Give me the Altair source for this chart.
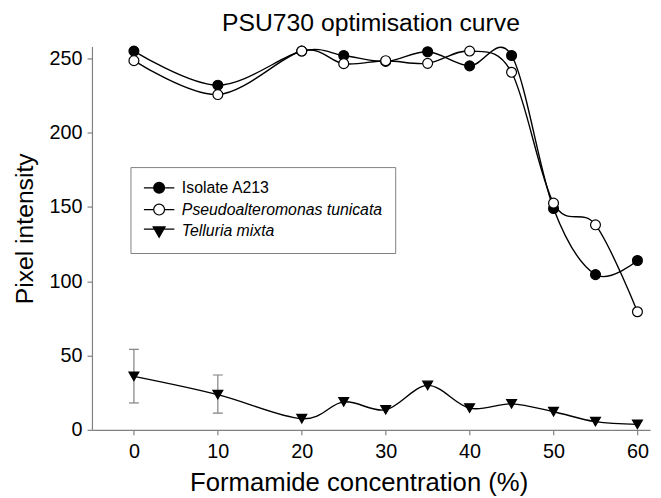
import altair as alt
import pandas as pd

# ---------------- data ----------------
conc = [0, 10, 20, 25, 30, 35, 40, 45, 50, 55, 60]
isolate_a213 = [255, 232, 255, 252, 248, 254.5, 245, 252, 149, 104.5, 114]
p_tunicata = [248.5, 225.7, 255, 246.5, 248.5, 246.7, 255, 240.7, 152.6, 138, 79.5]
t_mixta = [36, 23.7, 7.5, 18.8, 13.5, 29.9, 14.6, 17.5, 12.2, 5.5, 3.7]
series_names = ["Isolate A213", "Pseudoalteromonas tunicata", "Telluria mixta"]

err_conc = [0, 10]
err_low = [18.1, 11.3]
err_high = [54.2, 36.9]

x_ticks = [0, 10, 20, 30, 40, 50, 60]
y_ticks = [0, 50, 100, 150, 200, 250]

# ---------------- tables ----------------
rows = []
for name, vals in zip(series_names, [isolate_a213, p_tunicata, t_mixta]):
    for c, v in zip(conc, vals):
        rows.append({"conc": c, "value": v, "series": name})
df = pd.DataFrame(rows)

err_df = pd.DataFrame({"conc": err_conc, "lo": err_low, "hi": err_high})

FONT = "Liberation Sans"

x_enc = alt.X("conc:Q",
              scale=alt.Scale(domain=[-5, 61.5], nice=False, zero=False),
              axis=alt.Axis(values=x_ticks, title="Formamide concentration (%)",
                            labelFontSize=20, titleFontSize=26,
                            labelPadding=7, titlePadding=8, titleX=270))
y_enc = alt.Y("value:Q",
              scale=alt.Scale(domain=[0, 258], nice=False),
              axis=alt.Axis(values=y_ticks, title="Pixel intensity",
                            labelFontSize=20, titleFontSize=25,
                            labelPadding=5, titlePadding=12, titleY=184))

# legend symbols: marker with a short line through it (unit = marker radius)
CIRC = "M-2.8,0L-1,0M1,0L2.8,0M-1,0A1,1,0,1,1,1,0A1,1,0,1,1,-1,0Z"
TRI = "M-2.8,-0.4L2.8,-0.4M-1.1,-0.8L1.1,-0.8L0,1.1Z"

legend = alt.Legend(
    title=None, orient="none", legendX=39, legendY=122,
    strokeColor="#808080", padding=13,
    labelFontSize=16, labelFont=FONT, labelColor="black", labelLimit=400,
    labelFontStyle=alt.ExprRef("datum.value == 'Isolate A213' ? 'normal' : 'italic'"),
    rowPadding=6, symbolSize=121, symbolOffset=8, labelOffset=15,
    symbolOpacity=1, symbolStrokeWidth=1.2, symbolStrokeColor="black",
)

fill_scale = alt.Scale(domain=series_names, range=["black", "white", "black"])
shape_scale = alt.Scale(domain=series_names, range=[CIRC, CIRC, TRI])
stroke_scale = alt.Scale(domain=series_names, range=["black", "black", "black"])

errbar = alt.Chart(err_df).mark_rule(color="#808080", strokeWidth=1.2).encode(
    x=x_enc, y=alt.Y("lo:Q"), y2="hi:Q")
cap_lo = alt.Chart(err_df).mark_tick(orient="horizontal", size=10, thickness=1.2,
                                     color="#808080", opacity=1).encode(x=x_enc, y=alt.Y("lo:Q"))
cap_hi = alt.Chart(err_df).mark_tick(orient="horizontal", size=10, thickness=1.2,
                                     color="#808080", opacity=1).encode(x=x_enc, y=alt.Y("hi:Q"))

lines = alt.Chart(df).mark_line(interpolate="cardinal", color="black", strokeWidth=1.4).encode(
    x=x_enc, y=y_enc, detail="series:N")

circles = alt.Chart(df).transform_filter(
    alt.FieldOneOfPredicate(field="series", oneOf=series_names[:2])
).mark_point(filled=True, shape="circle", stroke="black", strokeWidth=1.2, size=100, opacity=1).encode(
    x=x_enc, y=y_enc,
    fill=alt.Fill("series:N", scale=fill_scale, legend=legend),
)

triangles = alt.Chart(df).transform_filter(
    alt.FieldEqualPredicate(field="series", equal=series_names[2])
).mark_point(filled=True, shape="triangle-down", color="black", stroke="black",
             strokeWidth=1.2, size=100, opacity=1).encode(x=x_enc, y=y_enc)

# legend-only layer (draws no data marks): supplies the legend symbol shapes
legend_layer = alt.Chart(df).transform_filter("false").mark_point(
    filled=False, strokeWidth=1.2, size=121, opacity=1).encode(
    x=x_enc, y=y_enc,
    shape=alt.Shape("series:N", scale=shape_scale, legend=legend),
    fill=alt.Fill("series:N", scale=fill_scale, legend=legend),
    stroke=alt.Stroke("series:N", scale=stroke_scale, legend=legend),
)

chart = alt.layer(errbar, cap_lo, cap_hi, lines, circles, triangles, legend_layer).properties(
    width=565, height=388,
    autosize=alt.AutoSizeParams(type="none"),
    padding={"left": 85, "top": 36, "right": 3, "bottom": 70},
    title=alt.Title("PSU730 optimisation curve", fontSize=25, fontWeight="normal",
                    anchor="middle", frame="group", offset=8, font=FONT, color="black"),
).configure(font=FONT).configure_view(stroke=None).configure_axis(
    grid=False, domainColor="#808080", tickColor="#808080", labelColor="black",
    titleColor="black", labelFont=FONT, titleFont=FONT, titleFontWeight="normal",
    tickSize=5, domainWidth=1.2, tickWidth=1.2)

chart.save("out.html", embed_options={"renderer": "svg", "actions": False})
